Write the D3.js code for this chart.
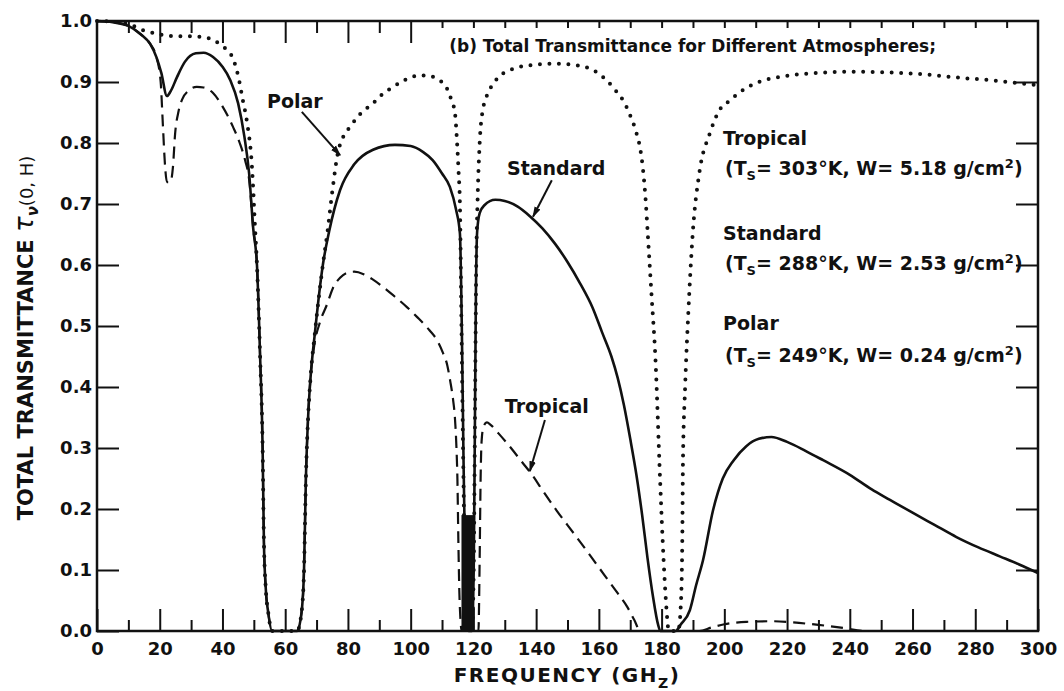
<!DOCTYPE html>
<html>
<head>
<meta charset="utf-8">
<script src="https://cdnjs.cloudflare.com/ajax/libs/d3/7.8.5/d3.min.js"></script>
<style>
  body { margin: 0; background: #fff; }
  text { font-family: "DejaVu Sans", sans-serif; font-weight: bold; fill: #111; }
</style>
</head>
<body>
<div id="chart"></div>
<script>
/*global d3*/

// [frequency GHz, transmittance]
var standard = [
  [0,1.0],[5,0.998],[10,0.992],[14,0.978],[17,0.962],[19,0.94],[20.5,0.915],[22.3,0.877],
  [23.5,0.885],[25.5,0.908],[28,0.933],[31.5,0.947],[34,0.948],[37,0.941],[40,0.925],
  [42.5,0.903],[45,0.865],[47,0.81],[48.5,0.75],[49.8,0.66],[51,0.6],[52,0.45],[52.8,0.3],
  [53.2,0.15],[53.8,0.07],[54.6,0.03],[55.8,0],[63.8,0],[65.2,0.03],[66,0.1],[66.6,0.25],
  [67.3,0.35],[68,0.41],[69.5,0.49],[72,0.6],[74,0.655],[77.5,0.723],[82,0.765],[88,0.789],
  [95,0.797],[100,0.795],[104,0.785],[107,0.772],[110,0.75],[112.5,0.728],[114.5,0.69],
  [115.7,0.652],[116.3,0.5],[116.8,0.3],[117.4,0.1],[118,0.02],[118.5,0],[119.5,0],
  [120.1,0.1],[120.5,0.35],[120.8,0.55],[121.2,0.655],[122,0.685],[123.5,0.698],[127,0.707],
  [130,0.705],[134,0.696],[138,0.68],[142,0.66],[146,0.635],[150,0.605],[154,0.57],
  [158,0.53],[161,0.49],[164,0.45],[166,0.415],[168,0.37],[170,0.315],[172,0.255],
  [173.8,0.19],[175.5,0.12],[177.3,0.055],[178.9,0.01],[179.6,0],[184.5,0],[186,0.01],
  [189,0.034],[191,0.075],[193.2,0.116],[196.4,0.198],[199.5,0.25],[203,0.28],[207,0.303],
  [211,0.315],[215,0.318],[220,0.31],[226,0.295],[231.5,0.28],[240,0.256],[247,0.232],
  [252.8,0.215],[260,0.194],[267,0.174],[274,0.154],[281,0.137],[288,0.122],[294,0.109],
  [300,0.095]
];

var tropical = [
  [0,1.0],[5,0.998],[10,0.992],[14,0.978],[17,0.962],[19,0.94],[20.3,0.9],[21,0.83],
  [21.7,0.762],[22.3,0.736],[23.4,0.736],[24.2,0.76],[24.9,0.815],[26,0.852],[27.2,0.872],
  [29,0.885],[31.8,0.892],[34,0.891],[37,0.882],[40,0.86],[43.4,0.826],[45.5,0.8],
  [47.2,0.772],[48.5,0.74],[49.8,0.66],[51,0.6],[52,0.45],[52.8,0.3],[53.2,0.15],
  [53.8,0.07],[54.6,0.03],[55.8,0],[63.8,0],[65.2,0.03],[66,0.1],[66.6,0.25],[67.3,0.35],
  [68,0.41],[69.2,0.466],[71,0.505],[73.3,0.535],[75.2,0.562],[77.5,0.579],[79.7,0.587],
  [82,0.589],[85,0.585],[88,0.576],[91.2,0.564],[95,0.548],[98.8,0.531],[102,0.515],
  [106,0.493],[108.5,0.476],[110.3,0.456],[111.7,0.435],[112.6,0.41],[113.5,0.38],
  [114.1,0.35],[114.6,0.3],[114.9,0.25],[115.2,0.15],[115.6,0.05],[116.3,0],[121.6,0],
  [122,0.12],[122.3,0.25],[122.6,0.31],[123.2,0.335],[124.3,0.342],[125.5,0.338],
  [128,0.324],[130.7,0.308],[135.8,0.275],[138.7,0.256],[142,0.231],[146.6,0.197],
  [152,0.16],[157.2,0.124],[162,0.09],[166,0.062],[169,0.04],[171.3,0.018],[173.2,0],[192,0],
  [196,0.006],[200,0.011],[207,0.015],[215,0.016],[222,0.014],[230,0.01],[238,0.005],
  [245,0],[300,0]
];

var polar = [
  [0,1.0],[5,0.999],[10,0.995],[14.7,0.985],[20,0.978],[25,0.975],[30,0.975],[33,0.974],
  [36.5,0.97],[39.2,0.962],[41.5,0.952],[43.4,0.938],[45,0.91],[46.5,0.87],[47.8,0.835],
  [49.4,0.761],[50.4,0.66],[51,0.6],[52,0.45],[52.8,0.3],[53.2,0.15],[53.8,0.07],
  [54.6,0.03],[55.8,0],[63.8,0],[65.2,0.03],[66,0.1],[66.6,0.25],[67.3,0.35],[68,0.41],
  [69.5,0.49],[72,0.6],[73.5,0.655],[75,0.72],[76.8,0.784],[78.5,0.81],[80.6,0.826],
  [84,0.848],[88,0.865],[91,0.88],[94.4,0.892],[98,0.903],[103,0.911],[106,0.91],
  [108.4,0.905],[111.5,0.89],[113,0.87],[114.1,0.85],[114.8,0.8],[115.3,0.75],[115.7,0.7],
  [116.2,0.5],[116.7,0.3],[117.3,0.1],[117.9,0.02],[118.5,0],[119.5,0],[120.1,0.1],
  [120.5,0.35],[120.9,0.6],[121.3,0.7],[122,0.8],[123,0.854],[125,0.885],[128.5,0.91],
  [133,0.922],[139,0.928],[145.4,0.93],[152,0.928],[158,0.92],[163,0.9],[165.5,0.885],
  [167.7,0.87],[170,0.845],[172,0.816],[173.2,0.79],[174,0.76],[175,0.7],[175.6,0.65],
  [176.8,0.55],[178,0.45],[179.5,0.25],[180.6,0.12],[181.5,0.04],[182.3,0],[185.3,0],
  [186.1,0.04],[186.6,0.15],[186.8,0.275],[187.5,0.4],[188.5,0.52],[190,0.657],[192,0.75],
  [195.4,0.816],[198,0.85],[201.8,0.87],[206,0.887],[210,0.898],[220,0.91],[230,0.915],
  [242,0.917],[255,0.915],[265,0.912],[275,0.907],[284.6,0.903],[292,0.899],[300,0.895]
];

// dense overlap of lines at the 118 GHz oxygen line: [from, to, up to]
var band118 = [[116.2, 120.0, 0.19]];

var xMajor = [0,20,40,60,80,100,120,140,160,180,200,220,240,260,280,300];
var xMinor = [10,30,50,70,90,110,130,150,170,190,210,230,250,270,290];
var topMajor = [20,40,60,80,100];
var topMinor = [10,30,50,70,90];
var topShort = [110,120,130,140,150,160,170,180,190,200,210,220,230,240,250,260,270,280,290];
var yTicks = [0,0.1,0.2,0.3,0.4,0.5,0.6,0.7,0.8,0.9,1.0];

var atmospheres = ["Tropical", "Standard", "Polar"];
var surfaceTemp = ["303", "288", "249"];
var waterVapor = ["5.18", "2.53", "0.24"];

var margin = {top: 21, right: 26, bottom: 60, left: 97},
    width = 1064 - margin.left - margin.right,
    height = 691 - margin.top - margin.bottom;

var x = d3.scaleLinear().domain([0, 300]).range([0, width]);
var y = d3.scaleLinear().domain([0, 1]).range([height, 0]);

var svg = d3.select("#chart").append("svg")
  .attr("width", 1064)
  .attr("height", 691);

var defs = svg.append("defs");
defs.append("marker")
  .attr("id", "arrow")
  .attr("viewBox", "0 0 10 10")
  .attr("refX", 9).attr("refY", 5)
  .attr("markerUnits", "userSpaceOnUse")
  .attr("markerWidth", 11).attr("markerHeight", 11)
  .attr("orient", "auto")
  .append("path")
  .attr("d", "M0,2 L10,5 L0,8 Z")
  .style("fill", "#111");

var g = svg.append("g")
  .attr("transform", "translate(" + margin.left + "," + margin.top + ")");

function styleAxis(sel, size) {
  sel.select(".domain").remove();
  sel.selectAll(".tick line").style("stroke", "#111").style("stroke-width", 2);
  sel.selectAll(".tick text").style("font-size", size + "px").style("fill", "#111");
}

// bottom axis
g.append("g")
  .attr("transform", "translate(0," + height + ")")
  .call(d3.axisBottom(x).tickValues(xMajor).tickSize(-22).tickSizeOuter(0)
    .tickPadding(11).tickFormat(d3.format("d")))
  .call(styleAxis, 18);
g.append("g")
  .attr("transform", "translate(0," + height + ")")
  .call(d3.axisBottom(x).tickValues(xMinor).tickSize(-11).tickFormat(""))
  .call(styleAxis, 18);

// top axis
g.append("g").call(d3.axisTop(x).tickValues(topMajor).tickSize(-22).tickFormat("")).call(styleAxis, 18);
g.append("g").call(d3.axisTop(x).tickValues(topMinor).tickSize(-12).tickFormat("")).call(styleAxis, 18);
g.append("g").call(d3.axisTop(x).tickValues(topShort).tickSize(-7).tickFormat("")).call(styleAxis, 18);

// left and right axes
g.append("g")
  .call(d3.axisLeft(y).tickValues(yTicks).tickSize(-22).tickPadding(5).tickFormat(d3.format(".1f")))
  .call(styleAxis, 18);
g.append("g")
  .attr("transform", "translate(" + width + ",0)")
  .call(d3.axisRight(y).tickValues(yTicks.slice(1, -1)).tickSize(-22).tickFormat(""))
  .call(styleAxis, 18);

g.append("rect")
  .attr("width", width)
  .attr("height", height)
  .style("fill", "none")
  .style("stroke", "#111")
  .style("stroke-width", 2.5);

var line = d3.line()
  .x(function(d){ return x(d[0]); })
  .y(function(d){ return y(d[1]); })
  .curve(d3.curveMonotoneX);

g.append("path")
  .datum(polar)
  .attr("d", line)
  .style("fill", "none")
  .style("stroke", "#111")
  .style("stroke-width", 4)
  .style("stroke-linecap", "round")
  .style("stroke-dasharray", "0,9.5");

g.append("path")
  .datum(tropical)
  .attr("d", line)
  .style("fill", "none")
  .style("stroke", "#111")
  .style("stroke-width", 2.2)
  .style("stroke-dasharray", "12,7");

g.append("path")
  .datum(standard)
  .attr("d", line)
  .style("fill", "none")
  .style("stroke", "#111")
  .style("stroke-width", 2.6);

g.selectAll("rect.band")
  .data(band118)
  .enter()
  .append("rect")
  .attr("class", "band")
  .attr("x", function(d){ return x(d[0]); })
  .attr("width", function(d){ return x(d[1]) - x(d[0]); })
  .attr("y", function(d){ return y(d[2]); })
  .attr("height", function(d){ return y(0) - y(d[2]); })
  .style("fill", "#111");

// curve labels with arrows (frequency, transmittance)
var curveLabels = [
  {text: "Polar", at: [54.2, 0.857], from: [65.3, 0.851], to: [77.5, 0.780]},
  {text: "Standard", at: [130.7, 0.748], from: [145, 0.739], to: [139, 0.679]},
  {text: "Tropical", at: [130, 0.357], from: [142.8, 0.346], to: [138, 0.262]}
];

g.selectAll("text.curve-label")
  .data(curveLabels)
  .enter()
  .append("text")
  .attr("class", "curve-label")
  .attr("x", function(d){ return x(d.at[0]); })
  .attr("y", function(d){ return y(d.at[1]); })
  .style("font-size", "19px")
  .text(function(d){ return d.text; });

g.selectAll("line.arrow")
  .data(curveLabels)
  .enter()
  .append("line")
  .attr("class", "arrow")
  .attr("x1", function(d){ return x(d.from[0]); })
  .attr("y1", function(d){ return y(d.from[1]); })
  .attr("x2", function(d){ return x(d.to[0]); })
  .attr("y2", function(d){ return y(d.to[1]); })
  .style("stroke", "#111")
  .style("stroke-width", 2)
  .attr("marker-end", "url(#arrow)");

// panel title
g.append("text")
  .attr("x", x(112.3))
  .attr("y", y(0.949))
  .style("font-size", "17px")
  .text("(b) Total Transmittance for Different Atmospheres;");

// atmosphere descriptions on the right
var nameY = [0.797, 0.641, 0.493],
    paramY = [0.748, 0.592, 0.441];

atmospheres.forEach(function(name, i) {
  g.append("text")
    .attr("x", x(199.6))
    .attr("y", y(nameY[i]))
    .style("font-size", "19px")
    .text(name);

  var t = g.append("text")
    .attr("x", x(200.2))
    .attr("y", y(paramY[i]))
    .style("font-size", "19px");
  t.append("tspan").text("(T");
  t.append("tspan").attr("dy", 5).style("font-size", "13px").text("S");
  t.append("tspan").attr("dy", -5).text("= " + surfaceTemp[i] + "°K, W= " + waterVapor[i] + " g/cm");
  t.append("tspan").attr("dy", -7).style("font-size", "13px").text("2");
  t.append("tspan").attr("dy", 7).text(")");
});

// axis titles
var xt = svg.append("text")
  .attr("x", 567)
  .attr("y", 682)
  .attr("text-anchor", "middle")
  .style("font-size", "20px")
  .style("letter-spacing", "1.5px");
xt.append("tspan").text("FREQUENCY (GH");
xt.append("tspan").attr("dy", 6).style("font-size", "14px").text("Z");
xt.append("tspan").attr("dy", -6).text(")");

var yt = svg.append("text")
  .attr("transform", "translate(33,338) rotate(-90)")
  .attr("text-anchor", "middle")
  .style("font-size", "21px");
yt.append("tspan").text("TOTAL TRANSMITTANCE ");
yt.append("tspan").style("font-style", "italic").style("font-size", "26px").style("font-weight", "normal").text("τ");
yt.append("tspan").attr("dy", 5).style("font-style", "italic").style("font-size", "15px").text("ν");
yt.append("tspan").attr("dy", -5).style("font-size", "18px").style("font-weight", "normal").text("(0, H)");
</script>
</body>
</html>
